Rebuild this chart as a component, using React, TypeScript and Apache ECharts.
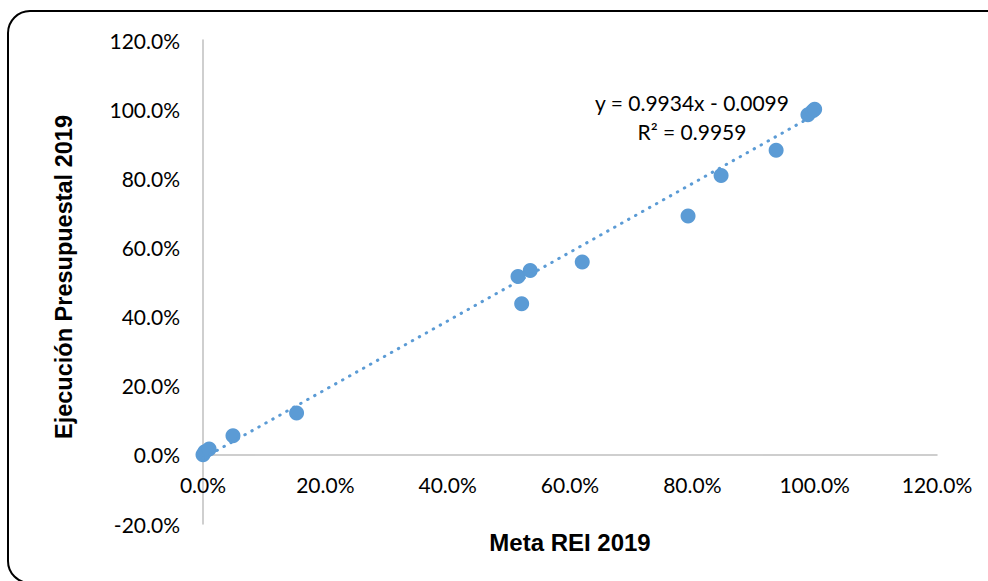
import React, { useEffect, useRef } from "react";
import * as echarts from "echarts";

const metaREI = [0, 0.003, 0.01, 0.049, 0.153, 0.515, 0.535, 0.521, 0.62, 0.793, 0.847, 0.937, 0.989, 0.997, 1.0];
const ejecucion = [0, 0.009, 0.017, 0.055, 0.121, 0.516, 0.533, 0.437, 0.558, 0.691, 0.808, 0.881, 0.984, 0.995, 1.0];
const trendSlope = 0.9934;
const trendIntercept = -0.0099;
const equationText = "y = 0.9934x - 0.0099\nR² = 0.9959";
const xAxisTitle = "Meta REI 2019";
const yAxisTitle = "Ejecución Presupuestal 2019";

const pct = (v: number) => (v * 100).toFixed(1) + "%";

export default function App() {
  const ref = useRef<HTMLDivElement>(null);
  useEffect(() => {
    if (!ref.current) return;
    const chart = echarts.init(ref.current, undefined, { renderer: "svg" });
    const xMin = Math.min(...metaREI);
    const xMax = Math.max(...metaREI);
    const trend = [
      [xMin, trendSlope * xMin + trendIntercept],
      [xMax, trendSlope * xMax + trendIntercept],
    ];
    const points = metaREI.map((x, i) => [x, ejecucion[i]]);
    const labelFont = { fontFamily: "Lato", fontSize: 21, color: "#000" };
    chart.setOption({
      animation: false,
      backgroundColor: "#fff",
      grid: { left: 203, right: 51, top: 40, bottom: 57, containLabel: false, outerBoundsMode: "none" },
      xAxis: {
        type: "value",
        min: 0,
        max: 1.2,
        interval: 0.2,
        name: xAxisTitle,
        nameLocation: "middle",
        nameGap: 6,
        nameTextStyle: { fontFamily: "Liberation Sans", fontWeight: "bold", fontSize: 24, color: "#000" },
        axisLine: { onZero: true, lineStyle: { color: "#BFBFBF", width: 1.5 } },
        axisTick: { show: false },
        splitLine: { show: false },
        axisLabel: { ...labelFont, margin: -50, formatter: pct },
      },
      yAxis: {
        type: "value",
        min: -0.2,
        max: 1.2,
        interval: 0.2,
        name: yAxisTitle,
        nameLocation: "middle",
        nameRotate: 90,
        nameGap: 127,
        nameTextStyle: { fontFamily: "Liberation Sans", fontWeight: "bold", fontSize: 23.5, color: "#000", padding: [0, 0, 0, 10] },
        axisLine: { show: true, onZero: false, lineStyle: { color: "#BFBFBF", width: 1.5 } },
        axisTick: { show: false },
        splitLine: { show: false },
        axisLabel: { ...labelFont, margin: 23, formatter: pct },
      },
      series: [
        {
          type: "scatter",
          data: points,
          symbolSize: 15,
          itemStyle: { color: "#5B9BD5", opacity: 1 },
          z: 2,
        },
        {
          type: "line",
          data: trend,
          showSymbol: false,
          lineStyle: { color: "#5B9BD5", width: 3, type: [0.5, 7.5], cap: "round" },
          z: 3,
        },
      ],
      graphic: [
        {
          type: "rect",
          shape: { x: 8, y: 11, width: 1010, height: 572, r: 22 },
          style: { fill: "none", stroke: "#000", lineWidth: 2 },
          silent: true,
          z: 10,
        },
        {
          type: "text",
          x: 692,
          y: 88,
          style: {
            text: equationText,
            fontFamily: "Lato",
            fontSize: 21,
            lineHeight: 29,
            fill: "#000",
            align: "center",
            verticalAlign: "top",
          },
          z: 10,
        },
      ],
    });
    return () => chart.dispose();
  }, []);
  return (
    <div
      ref={ref}
      style={{ position: "fixed", left: 0, top: 0, width: 988, height: 581 }}
    />
  );
}
